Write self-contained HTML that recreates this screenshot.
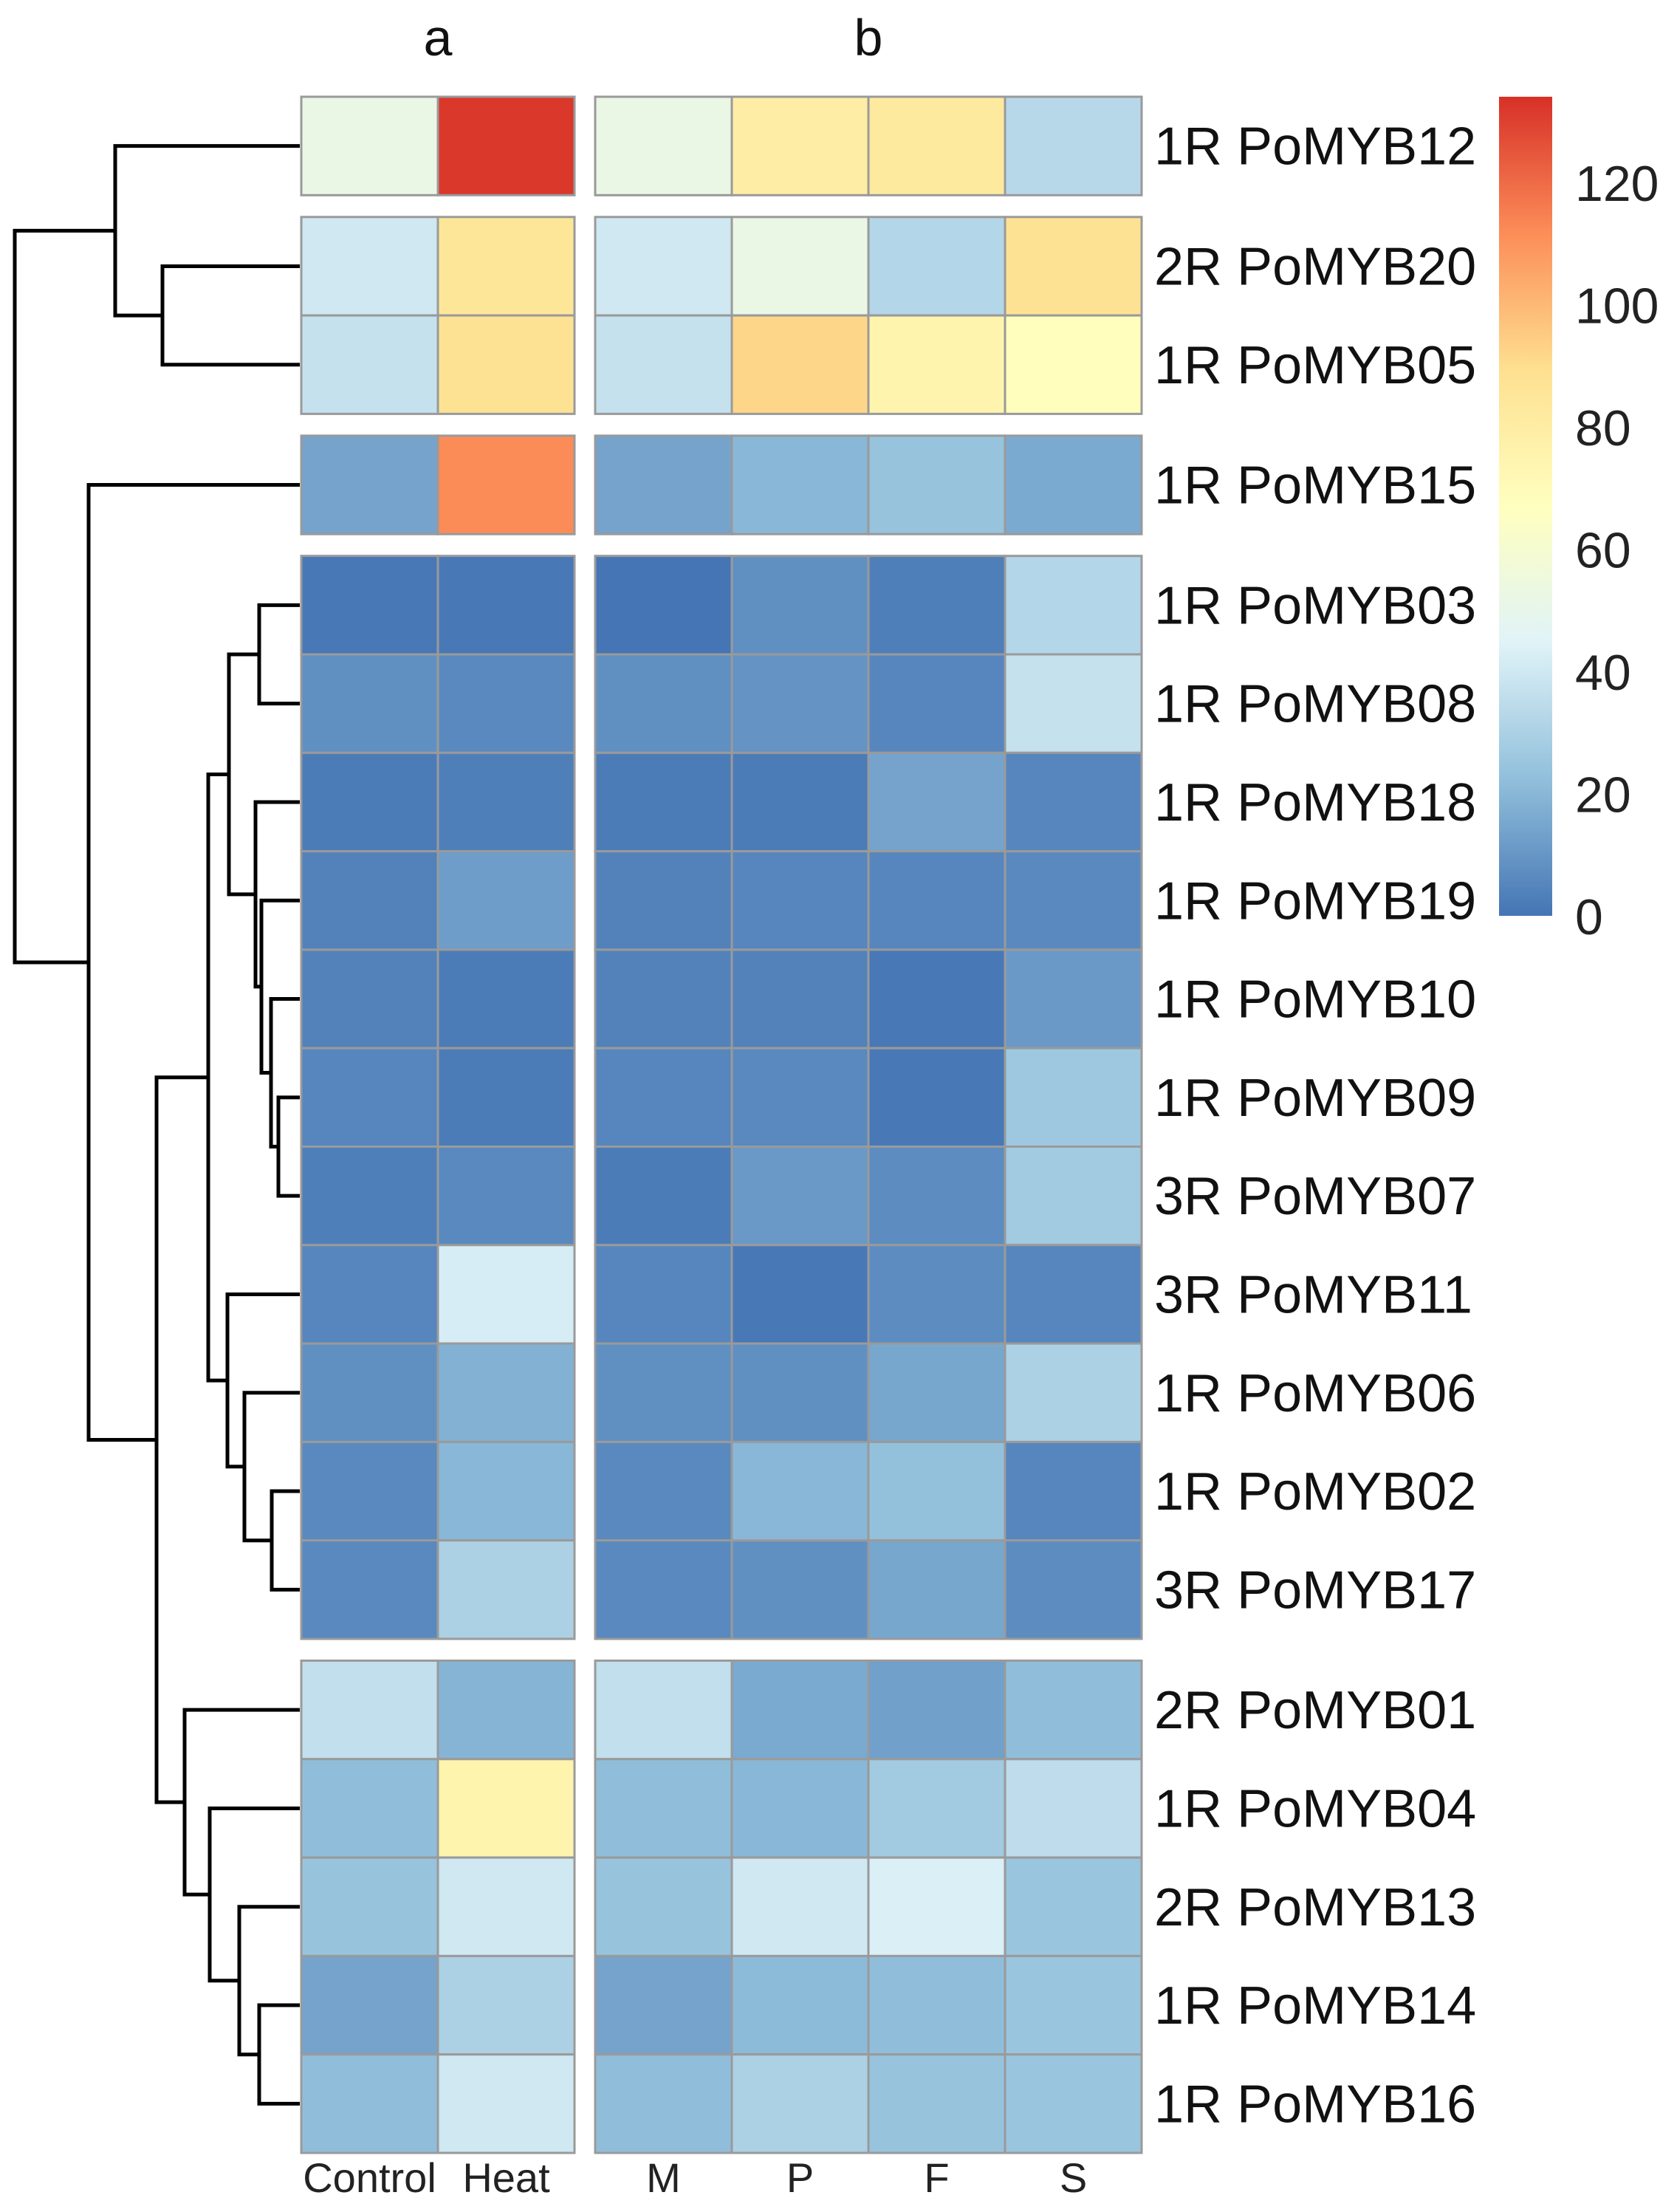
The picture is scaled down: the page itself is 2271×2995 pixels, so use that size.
<!DOCTYPE html>
<html><head><meta charset="utf-8"><style>
html,body{margin:0;padding:0;background:#fff;}
svg{display:block;font-family:"Liberation Sans",Arial,sans-serif;}
</style></head><body>
<svg id="chart" width="2271" height="2995" viewBox="0 0 2271 2995" xmlns="http://www.w3.org/2000/svg">
<g id="dendro"></g>
<g id="cells"></g>
<g id="rowlabels"></g>
<g id="collabels"></g>
<g id="legend"></g>
</svg>
<script>
const genes = ["1R PoMYB12","2R PoMYB20","1R PoMYB05","1R PoMYB15","1R PoMYB03","1R PoMYB08","1R PoMYB18","1R PoMYB19","1R PoMYB10","1R PoMYB09","3R PoMYB07","3R PoMYB11","1R PoMYB06","1R PoMYB02","3R PoMYB17","2R PoMYB01","1R PoMYB04","2R PoMYB13","1R PoMYB14","1R PoMYB16"];
const columnsA = ["Control","Heat"];
const columnsB = ["M","P","F","S"];
const valControl = [52,40,37,14,1,8,2,4,4,5,3,5,8,6,6,36,22,24,14,22];
const valHeat    = [132,85,88,112,1,6,3,12,2,2,6,42,18,20,30,19,75,40,30,40];
const valM = [52,40,37,14,0,8,2,4,4,5,2,5,8,6,6,36,22,24,14,22];
const valP = [80,52,92,20,8,9,2,5,4,6,11,1,8,20,8,16,20,40,21,30];
const valF = [82,32,75,24,3,5,14,5,1,1,7,7,15,23,15,13,27,43,22,24];
const valS = [33,88,68,16,32,37,5,6,11,26,27,5,30,5,7,22,35,25,25,25];
const blockSizes = [1,2,1,11,5];
const legendTicks = [0,20,40,60,80,100,120];
const legendMax = 134;
const merges = [[-2,-3,220],[-1,1,156],[-10,-11,377],[-9,3,367],[-8,4,354],[-7,5,346],[-5,-6,351],[7,6,310],[-14,-15,368],[-13,9,331],[-12,10,308],[8,11,282],[-19,-20,351],[-18,13,324],[-17,14,284],[-16,15,250],[12,16,212],[-4,17,120],[2,18,20]];

const NS="http://www.w3.org/2000/svg";
function mk(tag,attrs,parent){const e=document.createElementNS(NS,tag);for(const k in attrs)e.setAttribute(k,attrs[k]);parent.appendChild(e);return e;}
const stops=["#4575B4","#91BFDB","#E0F3F8","#FFFFBF","#FEE090","#FC8D59","#D73027"];
function hex(h){return [1,3,5].map(i=>parseInt(h.substr(i,2),16));}
function colorOf(v){let t=Math.max(0,Math.min(1,v/legendMax))*(stops.length-1);let i=Math.min(Math.floor(t),stops.length-2);let f=t-i;const a=hex(stops[i]),b=hex(stops[i+1]);return "rgb("+a.map((x,k)=>Math.round(x+(b[k]-x)*f)).join(",")+")";}

const rowH=133.3, gap=29.5, top0=131;
const rowY=[];let y=top0;
blockSizes.forEach((n,bi)=>{for(let i=0;i<n;i++){rowY.push(y);y+=rowH;}y+=gap;});
const colW=185, aX=408, bX=806;
const series=[valControl,valHeat,valM,valP,valF,valS];
const colX=[aX,aX+colW,bX,bX+colW,bX+2*colW,bX+3*colW];
const colNames=columnsA.concat(columnsB);
const cells=document.getElementById('cells');
genes.forEach((g,r)=>{series.forEach((s,c)=>{
 const rc=mk('rect',{x:colX[c],y:rowY[r],width:colW,height:rowH,fill:colorOf(s[r]),stroke:"#9a9a9a","stroke-width":3},cells);
 
 
});});
const rl=document.getElementById('rowlabels');
genes.forEach((g,r)=>{const t=mk('text',{x:1563,y:rowY[r]+rowH/2+25,"font-size":72,fill:"#111"},rl);t.textContent=g;
 
 });
const cl=document.getElementById('collabels');
colNames.forEach((n,c)=>{const t=mk('text',{x:colX[c]+colW/2,y:2968,"font-size":56,"text-anchor":"middle",fill:"#222"},cl);t.textContent=n;
 
 });
[["a",593],["b",1176]].forEach(([s,x])=>{const t=mk('text',{x:x,y:75,"font-size":70,"text-anchor":"middle",fill:"#111"},cl);t.textContent=s;
 
 });
const dg=document.getElementById('dendro');
const nodeY=[];
function posY(id){return id<0?rowY[-id-1]+rowH/2:nodeY[id-1];}
function posX(id){return id<0?406:merges[id-1][2];}
merges.forEach((m,i)=>{const y1=posY(m[0]),y2=posY(m[1]),x=m[2];nodeY[i]=(y1+y2)/2;
 const p=mk('path',{d:`M${posX(m[0])},${y1}H${x}V${y2}H${posX(m[1])}`,fill:"none",stroke:"#000","stroke-width":5},dg);
 
 });
const lg=document.getElementById('legend');
const defs=mk('defs',{},lg);const grad=mk('linearGradient',{id:"cg",x1:0,y1:1,x2:0,y2:0},defs);
stops.forEach((s,i)=>mk('stop',{offset:i/(stops.length-1),"stop-color":s},grad));
const lgBottom=1240, lgTop=131;
function legY(v){return lgBottom-(v/legendMax)*(lgBottom-lgTop);}
const bar=mk('rect',{x:2030,y:lgTop,width:72,height:lgBottom-lgTop,fill:"url(#cg)"},lg);


legendTicks.forEach(v=>{const t=mk('text',{x:2133,y:legY(v)+25,"font-size":68,fill:"#222"},lg);t.textContent=v;
 
 });
</script>
</body></html>
